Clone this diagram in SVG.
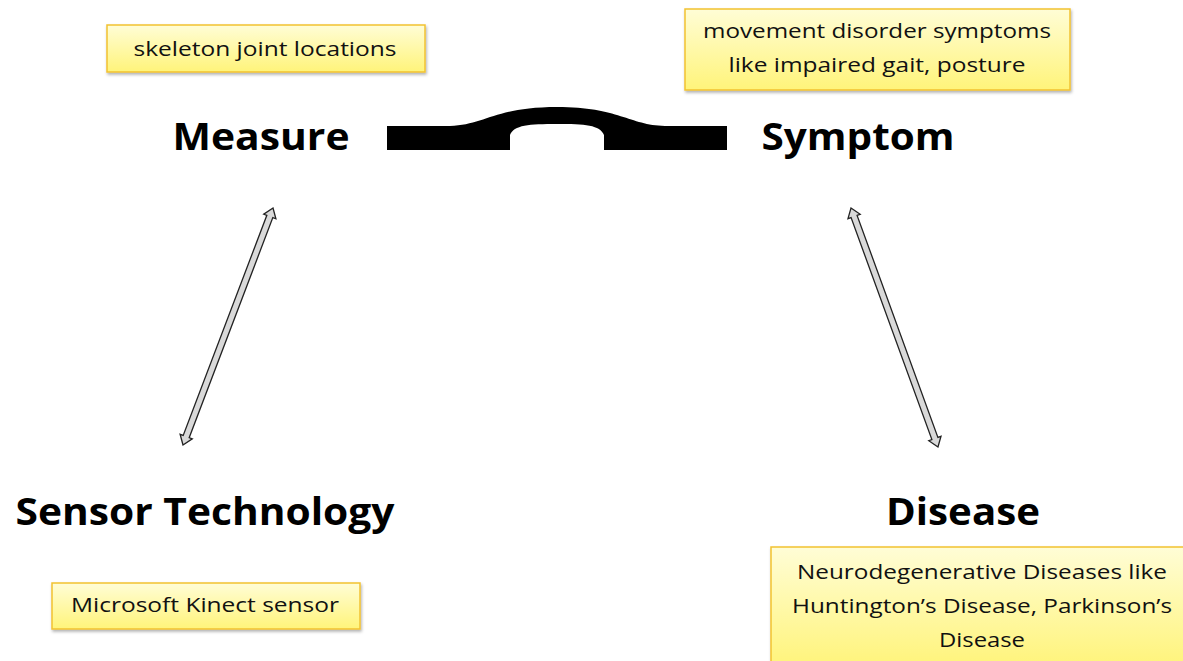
<svg xmlns="http://www.w3.org/2000/svg" width="1183" height="661" viewBox="0 0 1183 661">
<style>
.note{fill:url(#yg);stroke:#F2C230;stroke-width:1.5;filter:url(#sh)}
.nt{font-family:"Open Sans","Liberation Sans",sans-serif;font-size:20px;fill:#111;text-anchor:middle}
.title{font-family:"Open Sans","Liberation Sans",sans-serif;font-weight:bold;font-size:37px;fill:#000;text-anchor:middle}
.arr{fill:#D9D9D9;stroke:#222;stroke-width:1.3;stroke-linejoin:miter}
</style>
<defs>
<linearGradient id="yg" x1="0" y1="0" x2="0" y2="1">
<stop offset="0" stop-color="#FFFDD6"/>
<stop offset="1" stop-color="#FFF47A"/>
</linearGradient>
<filter id="sh" x="-10%" y="-20%" width="120%" height="150%">
<feDropShadow dx="1" dy="2" stdDeviation="1.5" flood-color="#000" flood-opacity="0.3"/>
</filter>
</defs>
<rect width="1183" height="661" fill="#fff"/>
<g id="connectors">
<path d="M387,126 L450,126 C485,125 495,107 557,107 C619,107 629,125 665,126 L727,126 L727,150 L604,150 L604,135 C600,125 585,124 557,124 C529,124 514,125 510,135 L510,150 L387,150 Z" fill="#000"/>
<polygon class="arr" transform="translate(183,445) rotate(-69.2)" points="0,0 9,-6.5 9,-3.2 244.5,-3.2 244.5,-6.5 253.5,0 244.5,6.5 244.5,3.2 9,3.2 9,6.5"/>
<polygon class="arr" transform="translate(851,208) rotate(70)" points="0,0 9,-6.5 9,-3.2 245.3,-3.2 245.3,-6.5 254.3,0 245.3,6.5 245.3,3.2 9,3.2 9,6.5"/>
</g>
<g id="measure"><text class="title" x="261" y="150" textLength="177" lengthAdjust="spacingAndGlyphs">Measure</text></g>
<g id="symptom"><text class="title" x="858" y="150" textLength="193" lengthAdjust="spacingAndGlyphs">Symptom</text></g>
<g id="sensor"><text class="title" x="205" y="525" textLength="379" lengthAdjust="spacingAndGlyphs">Sensor Technology</text></g>
<g id="disease"><text class="title" x="963" y="525" textLength="154" lengthAdjust="spacingAndGlyphs">Disease</text></g>
<g id="note-skeleton">
<rect class="note" x="107" y="25" width="318" height="47"/>
<text class="nt" x="265" y="56" textLength="263" lengthAdjust="spacingAndGlyphs">skeleton joint locations</text>
</g>
<g id="note-symptom">
<rect class="note" x="685" y="9" width="385" height="81"/>
<text class="nt" x="877" y="38" textLength="348" lengthAdjust="spacingAndGlyphs">movement disorder symptoms</text>
<text class="nt" x="877" y="72" textLength="297" lengthAdjust="spacingAndGlyphs">like impaired gait, posture</text>
</g>
<g id="note-kinect">
<rect class="note" x="52" y="583" width="308" height="46"/>
<text class="nt" x="205" y="612" textLength="268" lengthAdjust="spacingAndGlyphs">Microsoft Kinect sensor</text>
</g>
<g id="note-disease">
<rect class="note" x="771" y="547" width="425" height="120"/>
<text class="nt" x="982" y="579" textLength="370" lengthAdjust="spacingAndGlyphs">Neurodegenerative Diseases like</text>
<text class="nt" x="982" y="613" textLength="380" lengthAdjust="spacingAndGlyphs">Huntington’s Disease, Parkinson’s</text>
<text class="nt" x="982" y="647" textLength="86" lengthAdjust="spacingAndGlyphs">Disease</text>
</g>
</svg>
